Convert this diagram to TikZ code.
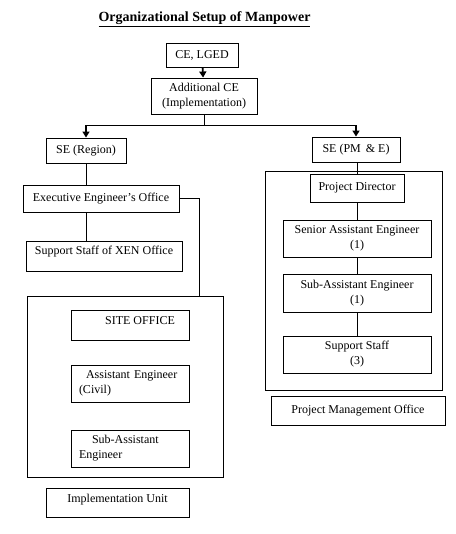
\documentclass[tikz,border=0pt]{standalone}
\usepackage{fontspec}
\setmainfont{Liberation Serif}
\usetikzlibrary{arrows.meta,calc}

\begin{document}
\begin{tikzpicture}[
  x=1pt, y=-1pt,
  font=\fontsize{12}{15}\selectfont,
  box/.style={draw=black, line width=0.9pt, inner sep=2pt, align=center},
  frame/.style={draw=black, line width=0.9pt},
  toptext/.style={text depth=#1},
  link/.style={line width=0.9pt, black},
  drop/.style={line width=1.8pt, black, -{Triangle[width=7pt,length=6pt]}}
]
\useasboundingbox[fill=white] (0,0) rectangle (455,534);

% Title
\node[font=\fontsize{14}{16}\selectfont\bfseries] (title) at (204.5,19) {\underline{Organizational Setup of Manpower}};

% Head office
\node[box, minimum width=72pt, minimum height=24pt] (celged) at (202,55) {CE, LGED};
\node[box, minimum width=106pt, minimum height=36pt] (addce) at (204,96) {Additional CE\\(Implementation)};

% Superintending engineers
\node[box, minimum width=80pt, minimum height=25pt] (seregion) at (86,150.5) {SE (Region)};
\node[box, minimum width=88pt, minimum height=25pt] (sepme) at (356,149.5) {SE (PM \,\& E)};

% Region side
\node[box, minimum width=156pt, minimum height=27pt] (exec) at (101,198.5) {Executive Engineer's Office};
\node[box, toptext=12pt, minimum width=156pt, minimum height=30pt] (xen) at (104,256) {Support Staff of XEN Office};
\node[frame, minimum width=196pt, minimum height=181pt] (implframe) at (125,386.5) {};
\node[box, toptext=8pt, minimum width=118pt, minimum height=30pt] (siteoffice) at (130,325) {\hspace*{20pt}SITE OFFICE};
\node[box, align=left, text width=102pt, inner xsep=8pt, minimum height=37pt] (asstcivil) at (130,383.5) {\hspace*{7pt}Assistant Engineer\\(Civil)};
\node[box, align=left, text width=102pt, inner xsep=8pt, minimum height=37pt] (subasst) at (130,448.5) {\hspace*{13pt}Sub-Assistant\\Engineer};
\node[box, toptext=9pt, minimum width=143pt, minimum height=29pt] (implunit) at (117.5,502.5) {Implementation Unit};

% PM&E side
\node[frame, minimum width=177pt, minimum height=219pt] (pmeframe) at (353.5,280.5) {};
\node[box, minimum width=94pt, minimum height=28pt] (projdir) at (357,188) {Project Director};
\node[box, minimum width=148pt, minimum height=37pt] (seniorae) at (357,238.5) {Senior Assistant Engineer\\(1)};
\node[box, minimum width=148pt, minimum height=38pt] (subae) at (357,293) {Sub-Assistant Engineer\\(1)};
\node[box, minimum width=148pt, minimum height=37pt] (supstaff) at (357,354.5) {Support Staff\\(3)};
\node[box, minimum width=174pt, minimum height=29pt] (pmo) at (358,410.5) {Project Management Office};

% Connectors
\coordinate (split) at ($(addce.south)+(0,11)$);
\draw[drop] (celged) -- (addce);
\draw[link] (addce.south) -- (split);
\draw[link] (split -| seregion.north) -- (split -| sepme.north);
\draw[drop] (split -| seregion.north) -- (seregion.north);
\draw[drop] (split -| sepme.north) -- (sepme.north);

\draw[link] (seregion.south) -- (seregion.south |- exec.north);
\draw[link] (seregion.south |- exec.south) -- (seregion.south |- xen.north);
\draw[link] (exec.east) -| ([xshift=74pt]implframe.north);

\draw[link] ([xshift=1pt]sepme.south) -- (projdir.north);
\draw[link] (projdir) -- (seniorae);
\draw[link] (seniorae) -- (subae);
\draw[link] (subae) -- (supstaff);

\end{tikzpicture}
\end{document}
